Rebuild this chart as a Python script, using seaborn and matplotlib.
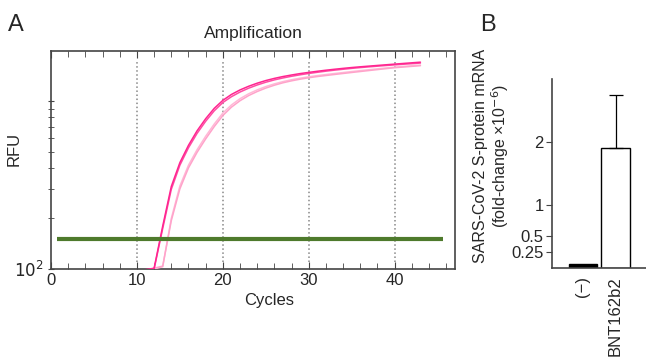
import numpy as np
import pandas as pd
import seaborn as sns
import matplotlib.pyplot as plt
from matplotlib.ticker import LogLocator, NullFormatter, MultipleLocator

sns.set_style('ticks')
plt.rcParams['font.family'] = ['Liberation Sans', 'DejaVu Sans']
plt.rcParams['font.size'] = 12

# Panel A data: qPCR amplification curves (RFU per cycle)
cycles = list(range(10, 44))
rfu_dark1 = [92, 99, 101, 180, 310, 430, 545, 665, 785, 905, 1010, 1095, 1165, 1225, 1278,
             1325, 1365, 1400, 1430, 1458, 1482, 1505, 1527, 1547, 1566, 1584, 1600, 1615,
             1630, 1645, 1660, 1675, 1690, 1705]
rfu_dark2 = [91, 98, 100, 174, 298, 415, 527, 642, 758, 875, 980, 1062, 1132, 1193, 1247,
             1295, 1337, 1373, 1405, 1434, 1460, 1484, 1507, 1528, 1547, 1566, 1583, 1599,
             1614, 1629, 1643, 1657, 1670, 1684]
rfu_light1 = [90, 96, 101, 104, 194, 300, 400, 495, 595, 705, 820, 920, 1005, 1078, 1140,
              1195, 1243, 1285, 1320, 1350, 1377, 1400, 1420, 1440, 1460, 1480, 1500, 1520,
              1540, 1560, 1580, 1595, 1610, 1625]
rfu_light2 = [90, 96, 100, 103, 200, 312, 415, 513, 617, 730, 848, 948, 1033, 1105, 1166,
              1220, 1266, 1306, 1340, 1369, 1395, 1418, 1439, 1459, 1479, 1499, 1518, 1537,
              1556, 1574, 1592, 1608, 1623, 1638]
threshold = 151
threshold_span = [0.7, 45.6]

# Panel B data
groups = ['(−)', 'BNT162b2']
fold_change = [0.06, 1.9]
fold_err = [0.0, 0.85]

curves = pd.DataFrame({
    'cycle': cycles * 4,
    'rfu': rfu_dark1 + rfu_dark2 + rfu_light1 + rfu_light2,
    'well': ['d1'] * len(cycles) + ['d2'] * len(cycles) + ['l1'] * len(cycles) + ['l2'] * len(cycles),
})
pal = {'d1': '#ff2590', 'd2': '#ff4da3', 'l1': '#ffa3ca', 'l2': '#ffb8d6'}

fig = plt.figure(figsize=(6.46, 3.61), dpi=100)
axA = fig.add_axes([0.079, 0.255, 0.625, 0.604])
axB = fig.add_axes([0.8545, 0.258, 0.1455, 0.5235])

# --- Panel A ---
axA.set_yscale('log')
axA.set_xlim(0, 47)
axA.set_ylim(100, 1990)
for xv in [10, 20, 30, 40]:
    axA.axvline(xv, ymin=0.03, ymax=0.96, color='#888888', ls=':', lw=1.1, zorder=1)
sns.lineplot(data=curves, x='cycle', y='rfu', hue='well', palette=pal, hue_order=['l2', 'l1', 'd2', 'd1'],
             estimator=None, sort=False, lw=1.1, legend=False, ax=axA, zorder=3)
axA.hlines(threshold, threshold_span[0], threshold_span[1], color='#4e7a2c', lw=3, zorder=4)

axA.set_title('Amplification', fontsize=12.5, pad=9)
axA.set_xlabel('Cycles', fontsize=12)
axA.set_ylabel('RFU', fontsize=12)
axA.xaxis.set_label_coords(0.54, -0.11)
axA.yaxis.set_label_coords(-0.072, 0.55)
axA.set_xticks([0, 10, 20, 30, 40])
axA.xaxis.set_minor_locator(MultipleLocator(2))
axA.set_yticks([100, 1000])
axA.set_yticklabels([r'$10^2$', ''])
axA.yaxis.set_minor_locator(LogLocator(base=10, subs=np.arange(2, 10)))
axA.yaxis.set_minor_formatter(NullFormatter())
axA.tick_params(axis='x', which='both', direction='in', top=True, bottom=True, color='#444444')
axA.tick_params(axis='y', which='both', direction='inout', left=True, right=False, color='#444444')
axA.tick_params(which='major', length=5, labelsize=12, pad=3)
axA.tick_params(which='minor', length=4)
for s in axA.spines.values():
    s.set_color('#444444')
    s.set_linewidth(1.2)

# --- Panel B ---
sns.barplot(x=groups, y=fold_change, hue=groups, palette=['black', 'white'], legend=False,
            edgecolor='black', linewidth=1, width=0.87, ax=axB)
axB.errorbar([1], [fold_change[1]], yerr=[[0], [fold_err[1]]], fmt='none', ecolor='black',
             elinewidth=0.9, capsize=5, capthick=0.9)
axB.set_xlim(-0.94, 1.93)
axB.set_ylim(0, 3)
axB.set_yticks([0.25, 0.5, 1, 2])
axB.set_yticklabels(['0.25', '0.5', '1', '2'])
axB.set_ylabel('SARS-CoV-2 S-protein mRNA\n(fold-change ×10$^{-6}$)', fontsize=11.5, linespacing=1.05)
axB.yaxis.set_label_coords(-0.44, 0.59)
axB.tick_params(axis='x', length=0, labelrotation=90, labelsize=12, pad=6)
axB.tick_params(axis='y', length=4, labelsize=12, pad=2, color='#444444')
sns.despine(ax=axB)
for s in ['left', 'bottom']:
    axB.spines[s].set_color('#444444')
    axB.spines[s].set_linewidth(1.2)

fig.text(0.012, 0.915, 'A', fontsize=17)
fig.text(0.743, 0.915, 'B', fontsize=17)

fig.savefig('out.png', dpi=100)
